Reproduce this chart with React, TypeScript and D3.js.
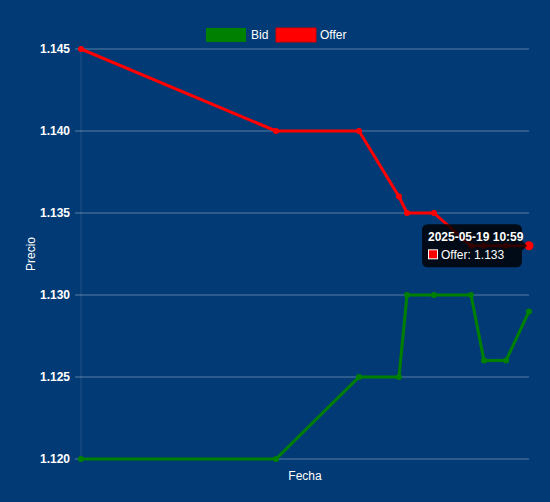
import React from "react";
import * as d3 from "d3";

const times: string[] = [
  "2025-05-19 03:31",
  "2025-05-19 06:46",
  "2025-05-19 08:09",
  "2025-05-19 08:49",
  "2025-05-19 08:57",
  "2025-05-19 09:24",
  "2025-05-19 10:01",
  "2025-05-19 10:14",
  "2025-05-19 10:36",
  "2025-05-19 10:59",
];
const bidValues: number[] = [1.12, 1.12, 1.125, 1.125, 1.13, 1.13, 1.13, 1.126, 1.126, 1.129];
const offerValues: number[] = [1.145, 1.14, 1.14, 1.136, 1.135, 1.135, 1.133, 1.133, 1.133, 1.133];
const seriesNames: string[] = ["Bid", "Offer"];
const seriesColors: string[] = ["#008000", "#ff0000"];
const yTickValues: number[] = [1.12, 1.125, 1.13, 1.135, 1.14, 1.145];
const hoverIndex = 9;

const W = 550;
const H = 502;
const BG = "#013a74";
const GRID = "rgba(255,255,255,0.35)";
const FONT = "'Liberation Sans', Arial, Helvetica, sans-serif";

export default function App() {
  const parse = d3.timeParse("%Y-%m-%d %H:%M");
  const fmt = d3.timeFormat("%Y-%m-%d %H:%M");
  const dates = times.map((t) => parse(t) as Date);
  const x = d3
    .scaleTime()
    .domain([dates[0], dates[dates.length - 1]])
    .range([81, 529]);
  const y = d3.scaleLinear().domain([1.12, 1.145]).range([459, 49]);
  const line = d3
    .line<number>()
    .x((_, i) => x(dates[i]))
    .y((v) => y(v));
  const series = [bidValues, offerValues];

  const hx = x(dates[hoverIndex]);
  const hy = y(offerValues[hoverIndex]);
  const tipW = 100;
  const tipH = 43;
  const tipRight = hx - 7;
  const tipLeft = tipRight - tipW;
  const tipTop = hy - tipH / 2;

  return (
    <svg
      width={W}
      height={H}
      style={{ position: "fixed", left: 0, top: 0, display: "block" }}
      fontFamily={FONT}
    >
      <rect x={0} y={0} width={W} height={H} fill={BG} />
      {/* grid */}
      {yTickValues.map((v) => (
        <g key={v}>
          <line x1={75} x2={529} y1={y(v)} y2={y(v)} stroke={GRID} strokeWidth={1} />
          <text
            x={70}
            y={y(v)}
            dy="0.35em"
            textAnchor="end"
            fill="#ffffff"
            fontSize={12}
            fontWeight="bold"
          >
            {d3.format(".3f")(v)}
          </text>
        </g>
      ))}
      <line x1={81} x2={81} y1={49} y2={459} stroke="rgba(255,255,255,0.12)" strokeWidth={1} />
      {/* axis titles */}
      <text x={305} y={476} dy="0.35em" textAnchor="middle" fill="#ffffff" fontSize={12}>
        Fecha
      </text>
      <text
        transform={`translate(31,${254}) rotate(-90)`}
        textAnchor="middle"
        dy="0.35em"
        fill="#ffffff"
        fontSize={12}
      >
        Precio
      </text>
      {/* legend */}
      <g>
        <rect x={206} y={28} width={40} height={14} fill={seriesColors[0]} />
        <text x={251} y={35} dy="0.35em" fill="#ffffff" fontSize={12}>
          {seriesNames[0]}
        </text>
        <rect x={276} y={28} width={40} height={14} fill={seriesColors[1]} stroke="#d00000" strokeWidth={1} />
        <text x={320} y={35} dy="0.35em" fill="#ffffff" fontSize={12}>
          {seriesNames[1]}
        </text>
      </g>
      {/* lines */}
      {series.map((vals, si) => (
        <g key={si}>
          <path
            d={line(vals) || ""}
            fill="none"
            stroke={seriesColors[si]}
            strokeWidth={3}
            strokeLinejoin="round"
          />
          {vals.map((v, i) => (
            <circle
              key={i}
              cx={x(dates[i])}
              cy={y(v)}
              r={si === 1 && i === hoverIndex ? 4.5 : 3}
              fill={seriesColors[si]}
            />
          ))}
        </g>
      ))}
      {/* tooltip */}
      <g>
        <path
          d={`M${tipLeft + 6},${tipTop} H${tipRight - 6} Q${tipRight},${tipTop} ${tipRight},${tipTop + 6} V${hy - 5} L${tipRight + 5},${hy} L${tipRight},${hy + 5} V${tipTop + tipH - 6} Q${tipRight},${tipTop + tipH} ${tipRight - 6},${tipTop + tipH} H${tipLeft + 6} Q${tipLeft},${tipTop + tipH} ${tipLeft},${tipTop + tipH - 6} V${tipTop + 6} Q${tipLeft},${tipTop} ${tipLeft + 6},${tipTop} Z`}
          fill="rgba(0,0,0,0.8)"
        />
        <text x={tipLeft + 6} y={tipTop + 12} dy="0.35em" fill="#ffffff" fontSize={12} fontWeight="bold">
          {fmt(dates[hoverIndex])}
        </text>
        <rect x={tipLeft + 6} y={tipTop + 25} width={10} height={10} fill="#ffffff" />
        <rect x={tipLeft + 7} y={tipTop + 26} width={8} height={8} fill={seriesColors[1]} />
        <text x={tipLeft + 19} y={tipTop + 30} dy="0.35em" fill="#ffffff" fontSize={12}>
          {`${seriesNames[1]}: ${d3.format(".3f")(offerValues[hoverIndex])}`}
        </text>
      </g>
    </svg>
  );
}
